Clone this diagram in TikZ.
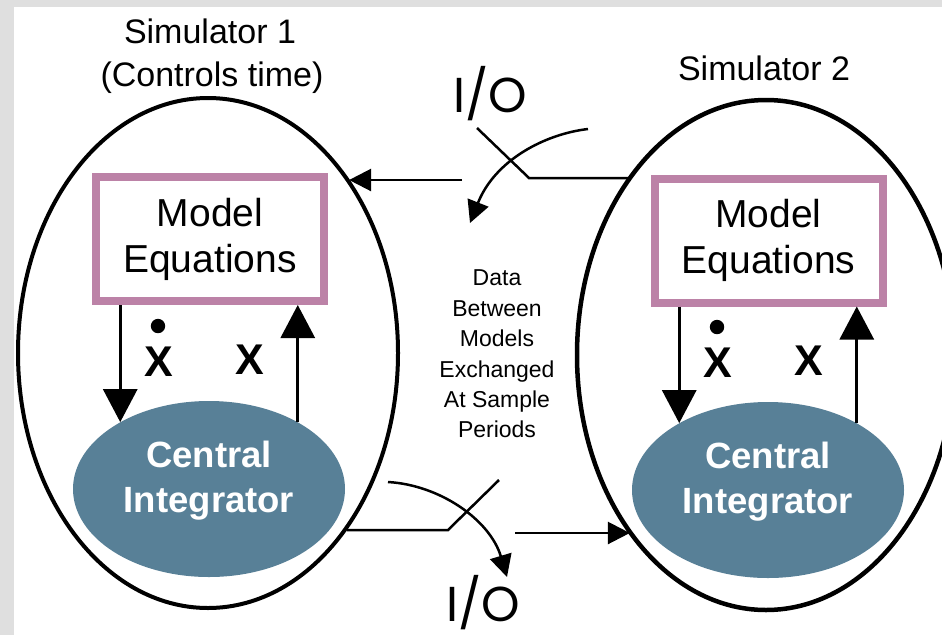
\documentclass[tikz,border=0pt]{standalone}
\usepackage{fontspec}
\setmainfont{Liberation Sans}
\newfontfamily\iofont{Poppins}
\usetikzlibrary{shapes.geometric,arrows.meta,calc}

\definecolor{bandgray}{HTML}{DFDFDF}
\definecolor{eqpink}{HTML}{BC82A7}
\definecolor{cifill}{HTML}{588097}

\begin{document}
\begin{tikzpicture}[x=1pt,y=-1pt,
  sim/.style={ellipse,draw=black,line width=4pt,minimum width=380pt,minimum height=510pt,inner sep=0pt},
  eqbox/.style={draw=eqpink,line width=8pt,fill=white,minimum width=228pt,minimum height=124pt,
    inner sep=0pt,align=center,font=\fontsize{39}{46}\selectfont},
  integ/.style={ellipse,fill=cifill,minimum width=272pt,minimum height=176pt,inner sep=0pt},
  integtext/.style={text=white,align=center,font=\bfseries\fontsize{36.5}{45}\selectfont,inner sep=0pt},
  title/.style={font=\fontsize{34}{40}\selectfont,anchor=base,inner sep=0pt},
  state/.style={font=\bfseries\fontsize{43}{43}\selectfont,inner sep=0pt},
  iolabel/.style={font=\iofont\fontsize{49}{49}\selectfont,anchor=base,inner sep=0pt},
  bigarrow/.style={line width=3pt,-{Triangle[width=34pt,length=33pt]}},
  smallarrow/.style={line width=2.5pt,-{Triangle[width=22pt,length=22pt]}},
  wire/.style={line width=2.5pt}
]
% page with a grey band on the top and left
\path[use as bounding box,fill=bandgray] (0,0) rectangle (942,635);
\fill[white] (14,7) rectangle (942,635);
\clip (0,0) rectangle (942,635);

% ---------- Simulator 1 ----------
\node[title] (s1a) at (210,43) {Simulator 1};
\node[title] (s1b) at (212,86) {(Controls time)};
\node[sim] (sim1) at (208,353) {};
\node[eqbox] (eq1) at (210,239) {Model\\Equations};
\node[integ] (ci1) at (209,489) {};
\node[integtext] (ci1t) at (209,481) {Central\\Integrator};
\draw[bigarrow] (eq1.south -| ci1.143) -- (ci1.143);
\draw[bigarrow] (ci1.37) -- (ci1.37 |- eq1.south);
\fill (158,326) circle (7.2pt);
\node[state] (xd1) at (159,362) {X};
\node[state] (x1) at (250,360) {X};

% ---------- Simulator 2 ----------
\node[title] (s2a) at (764,80) {Simulator 2};
\node[sim,line width=4.5pt,minimum width=378pt] (sim2) at (766,355) {};
\node[eqbox] (eq2) at (768.5,240.5) {Model\\Equations};
\node[integ] (ci2) at (768,490) {};
\node[integtext] (ci2t) at (768,482) {Central\\Integrator};
\draw[bigarrow] (eq2.south -| ci2.143) -- (ci2.143);
\draw[bigarrow] (ci2.37) -- (ci2.37 |- eq2.south);
\fill (717,327) circle (7.2pt);
\node[state] (xd2) at (718,363) {X};
\node[state] (x2) at (809,361) {X};

% ---------- exchange at the sample periods ----------
\node[font=\fontsize{23}{30.4}\selectfont,align=center,inner sep=0pt] (data) at (497,354)
  {Data\\Between\\Models\\Exchanged\\At Sample\\Periods};

% upper I/O switch
\node[iolabel] (iotop) at (490,112) {I/O};
\coordinate (ta) at (462,180);
\draw[smallarrow] (ta) -- (ta -| sim1.51);
\coordinate (tb) at (477,128);
\coordinate (tc) at (529,178);
\draw[wire] (tb) -- (tc) -- (tc -| sim2.127);
\coordinate (td) at (588,129);
\coordinate (te) at (470,223);
\draw[smallarrow] (td) .. controls (545,134) and (495,160) .. (te);

% lower I/O switch
\node[iolabel] (iobot) at (483,621) {I/O};
\coordinate (ba) at (448,530);
\coordinate (bb) at (499,480);
\draw[wire] (ba -| sim1.-52) -- (ba) -- (bb);
\coordinate (bc) at (388,482);
\coordinate (bd) at (507,577);
\draw[smallarrow] (bc) .. controls (440,485) and (490,520) .. (bd);
\coordinate (be) at (515,533);
\draw[smallarrow] (be) -- (be -| sim2.-127);
\end{tikzpicture}
\end{document}
